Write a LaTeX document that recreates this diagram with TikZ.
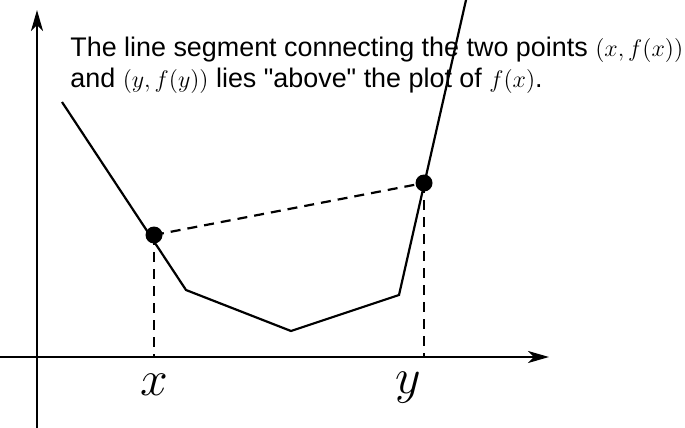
\documentclass[tikz,border=0pt]{standalone}
\usepackage{fontspec}
\newfontfamily\capfont{Liberation Sans}
\newcommand\capmath[1]{{\fontsize{11.7}{14}\selectfont$#1$}}
\usetikzlibrary{arrows.meta}
\begin{document}
\begin{tikzpicture}[x=0.5pt,y=-0.5pt,
  axis/.style={line width=1.25pt,-{Stealth[length=10.5pt,width=6pt,inset=3pt]}},
  curve/.style={line width=1.1pt,line join=miter},
  guide/.style={line width=1.1pt,dash pattern=on 5pt off 3.5pt},
  dot/.style={circle,fill=black,inner sep=0pt,minimum size=8.5pt},
  lbl/.style={font=\fontsize{24}{24}\selectfont,inner sep=0pt}]
\useasboundingbox (0,0) rectangle (685,428);
% axes
\coordinate (xa0) at (0,357);
\coordinate (xa1) at (549,357);
\coordinate (ya0) at (37,428);
\coordinate (ya1) at (37,10);
\draw[axis] (xa0) -- (xa1);
\draw[axis] (ya0) -- (ya1);
% curve
\coordinate (c0) at (62,102);
\coordinate (c1) at (186,290);
\coordinate (c2) at (291,331);
\coordinate (c3) at (399,295);
\coordinate (c4) at (466,0);
\draw[curve] (c0) -- (c1) -- (c2) -- (c3) -- (c4);
% points
\node[dot] (px) at (154,235) {};
\node[dot] (py) at (424,183) {};
\coordinate (bx) at (154,357);
\coordinate (by) at (424,357);
\draw[guide] (px.center) -- (py.center);
\draw[guide] (px.center) -- (bx);
\draw[guide] (py.center) -- (by);
% labels
\node[lbl,anchor=base] (lx) at (154,395) {$x$};
\node[lbl,anchor=base] (ly) at (408,393) {$y$};
\node[anchor=base west,inner sep=0pt,align=left,font=\capfont\fontsize{13.45}{15.5}\selectfont] (cap) at (70,87)
  {The line segment connecting the two points \capmath{(x,f(x))}\\and \capmath{(y,f(y))} lies "above" the plot of \capmath{f(x)}.};
\end{tikzpicture}
\end{document}
